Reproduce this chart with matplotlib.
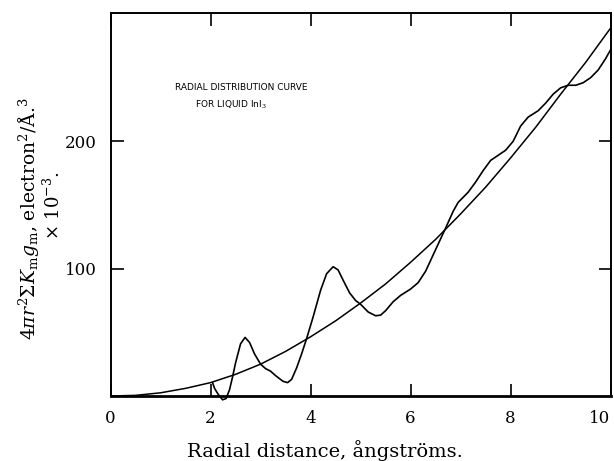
import matplotlib
matplotlib.use("Agg")
import matplotlib.pyplot as plt

# smooth 4*pi*r^2*rho0 curve
r_smooth = [0.0, 0.5, 1.0, 1.5, 2.0, 2.5, 3.0, 3.5, 4.0, 4.5, 5.0,
            5.5, 6.0, 6.5, 7.0, 7.5, 8.0, 8.5, 9.0, 9.5, 10.0]
y_smooth = [0.0, 0.5, 2.5, 6.0, 10.5, 17.0, 25.0, 35.0, 46.5, 59.0, 73.0,
            88.0, 105.0, 123.0, 143.0, 164.0, 187.0, 211.0, 237.0, 262.0, 289.0]

# radial distribution curve for liquid InI3
r_rdf = [2.04, 2.08, 2.15, 2.24, 2.31, 2.38, 2.44, 2.5, 2.6, 2.69, 2.78,
         2.88, 3.0, 3.1, 3.2, 3.3, 3.45, 3.54, 3.62, 3.72, 3.82, 3.92,
         4.05, 4.2, 4.32, 4.45, 4.55, 4.65, 4.78, 4.9, 5.0, 5.15, 5.3,
         5.4, 5.5, 5.65, 5.8, 6.0, 6.15, 6.3, 6.5, 6.69, 6.85, 6.95,
         7.05, 7.15, 7.3, 7.45, 7.6, 7.75, 7.9, 8.05, 8.2, 8.35, 8.55,
         8.7, 8.85, 9.0, 9.15, 9.3, 9.45, 9.6, 9.75, 9.9, 10.0]
y_rdf = [10.5, 6.0, 1.5, -3.0, -2.0, 5.0, 15.0, 26.0, 41.0, 46.0, 42.0,
         33.0, 25.0, 21.5, 19.5, 16.0, 11.5, 10.5, 13.0, 22.0, 33.0, 45.0,
         62.0, 83.0, 96.0, 101.5, 99.0, 91.0, 81.0, 75.0, 72.0, 66.0, 63.0,
         63.5, 67.0, 74.0, 79.0, 84.0, 89.0, 98.0, 115.0, 131.0, 145.0, 152.0,
         156.0, 160.0, 168.0, 177.0, 185.0, 189.0, 193.0, 200.0, 212.0, 219.0, 224.0,
         230.0, 237.0, 242.0, 244.0, 244.0, 246.0, 250.0, 256.0, 265.0, 272.0]

x_ticks = [0, 2, 4, 6, 8, 10]
y_ticks = [100, 200]

plt.rcParams["font.family"] = "DejaVu Serif"
plt.rcParams["mathtext.fontset"] = "dejavuserif"

fig = plt.figure(figsize=(6.14, 4.61), dpi=100)
ax = fig.add_axes([0.180, 0.141, 0.8146, 0.8315])

ax.plot(r_smooth, y_smooth, color="black", linewidth=1.1)
ax.plot(r_rdf, y_rdf, color="black", linewidth=1.2, clip_on=False)

ax.set_xlim(0, 10)
ax.set_ylim(0, 301)
ax.set_xticks(x_ticks)
ax.set_yticks(y_ticks)
ax.tick_params(direction="in", length=9, width=1.2, labelsize=12,
               top=True, right=True, pad=10)
ax.get_xticklabels()[-1].set_horizontalalignment("right")
for s in ax.spines.values():
    s.set_linewidth(1.4)
ax.spines["bottom"].set_linewidth(2.0)

fig.text(0.53, 0.022, "Radial distance, ångströms.", fontsize=14,
         ha="center", va="center")

fig.text(0.046, 0.525,
         r"$4\pi r^2\Sigma K_{\rm m}g_{\rm m}$, electron$^2$/Å.$^3$",
         rotation=90, ha="center", va="center", fontsize=13.5)
fig.text(0.086, 0.555, r"× 10$^{-3}$.",
         rotation=90, ha="center", va="center", fontsize=13)

ax.text(1.29, 242, "RADIAL DISTRIBUTION CURVE", family="DejaVu Sans",
        fontsize=6.5, ha="left", va="center")
ax.text(1.69, 229, r"FOR LIQUID InI$_3$", family="DejaVu Sans",
        fontsize=6.5, ha="left", va="center")

fig.savefig("out.png", dpi=100)
